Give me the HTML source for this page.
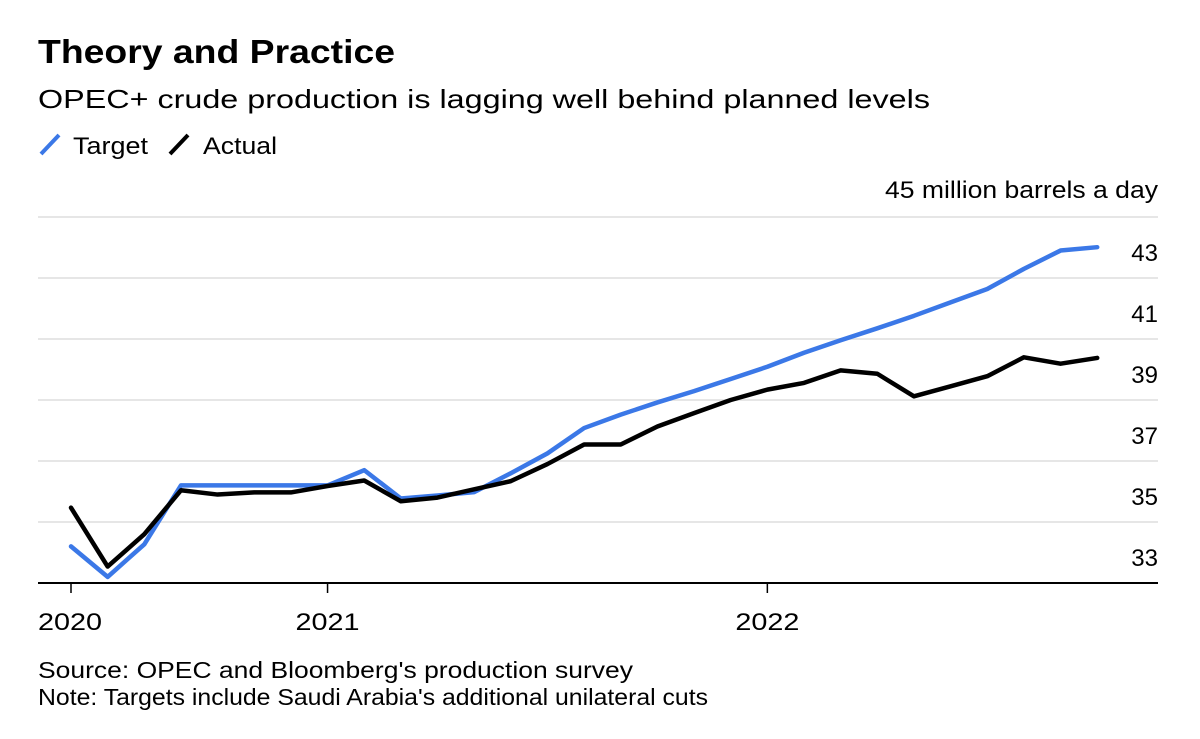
<!DOCTYPE html>
<html><head><meta charset="utf-8"><style>
html,body{margin:0;padding:0;background:#fff;}
svg{display:block;font-family:"Liberation Sans",sans-serif;}
</style></head><body>
<svg id="chart" width="1200" height="739" viewBox="0 0 1200 739">
<text x="38" y="63" font-size="33" font-weight="bold" fill="#000" textLength="357" lengthAdjust="spacingAndGlyphs">Theory and Practice</text>
<text x="38" y="108" font-size="26" fill="#000" textLength="892" lengthAdjust="spacingAndGlyphs">OPEC+ crude production is lagging well behind planned levels</text>
<g>
<g><line x1="41" y1="154" x2="59" y2="135" stroke="#3b78e7" stroke-width="4"/><text x="73" y="154" font-size="24" fill="#000" textLength="75" lengthAdjust="spacingAndGlyphs">Target</text></g>
<g><line x1="170" y1="154" x2="188" y2="135" stroke="#000" stroke-width="4"/><text x="203" y="154" font-size="24" fill="#000" textLength="74" lengthAdjust="spacingAndGlyphs">Actual</text></g>
</g>
<text x="1158" y="198" font-size="24" fill="#000" text-anchor="end" textLength="273" lengthAdjust="spacingAndGlyphs">45 million barrels a day</text>
<g id="grid"></g>
<g id="series"></g>
<text x="38" y="678" font-size="23" fill="#000" textLength="595" lengthAdjust="spacingAndGlyphs">Source: OPEC and Bloomberg's production survey</text>
<text x="38" y="705" font-size="23" fill="#000" textLength="670" lengthAdjust="spacingAndGlyphs">Note: Targets include Saudi Arabia's additional unilateral cuts</text>
</svg>
<script>
const yTicks = [33, 35, 37, 39, 41, 43, 45];
const yTickLabels = ["33", "35", "37", "39", "41", "43", ""];
const xTickIndex = [0, 7, 19];
const xTickLabels = ["2020", "2021", "2022"];
const target = [34.2, 33.2, 34.27, 36.2, 36.2, 36.2, 36.2, 36.2, 36.7, 35.77, 35.87, 35.98, 36.6, 37.25, 38.08, 38.52, 38.92, 39.29, 39.69, 40.09, 40.55, 40.96, 41.35, 41.76, 42.2, 42.64, 43.3, 43.9, 44.01];
const actual = [35.47, 33.54, 34.6, 36.04, 35.9, 35.97, 35.97, 36.18, 36.36, 35.68, 35.8, 36.07, 36.34, 36.9, 37.54, 37.54, 38.13, 38.57, 39.0, 39.34, 39.56, 39.97, 39.86, 39.12, 39.45, 39.78, 40.4, 40.19, 40.38];

const NS = "http://www.w3.org/2000/svg";
function xScale(i){ return 71 + i * 36.65; }
function yScale(v){ return 583 - (v - 33) * 30.5; }
const grid = document.getElementById("grid");
const series = document.getElementById("series");

yTicks.forEach(function(v, k){
  if (k > 0) {
    const l = document.createElementNS(NS, "line");
    l.setAttribute("x1", 38); l.setAttribute("x2", 1158);
    l.setAttribute("y1", yScale(v)); l.setAttribute("y2", yScale(v));
    l.setAttribute("stroke", "#e6e6e6"); l.setAttribute("stroke-width", "2");
    
    
    grid.appendChild(l);
  }
  if (yTickLabels[k]) {
    const t = document.createElementNS(NS, "text");
    t.setAttribute("x", 1158); t.setAttribute("y", yScale(v) - 17);
    t.setAttribute("text-anchor", "end"); t.setAttribute("font-size", "24");
    t.textContent = yTickLabels[k];
    
    
    grid.appendChild(t);
  }
});
const axis = document.createElementNS(NS, "line");
axis.setAttribute("x1", 38); axis.setAttribute("x2", 1158);
axis.setAttribute("y1", yScale(33)); axis.setAttribute("y2", yScale(33));
axis.setAttribute("stroke", "#000"); axis.setAttribute("stroke-width", "2");


grid.appendChild(axis);
xTickIndex.forEach(function(i, k){
  const l = document.createElementNS(NS, "line");
  l.setAttribute("x1", xScale(i)); l.setAttribute("x2", xScale(i));
  l.setAttribute("y1", yScale(33)); l.setAttribute("y2", yScale(33) + 10);
  l.setAttribute("stroke", "#000"); l.setAttribute("stroke-width", "1.5");
  
  
  grid.appendChild(l);
  const t = document.createElementNS(NS, "text");
  const first = (k === 0);
  t.setAttribute("x", first ? 38 : xScale(i) - 32);
  t.setAttribute("y", 630);
  t.setAttribute("font-size", "24");
  t.setAttribute("textLength", "64");
  t.setAttribute("lengthAdjust", "spacingAndGlyphs");
  t.textContent = xTickLabels[k];
  
  
  grid.appendChild(t);
});
function drawLine(arr, color, name){
  const p = document.createElementNS(NS, "polyline");
  p.setAttribute("points", arr.map(function(v, i){ return xScale(i) + "," + yScale(v); }).join(" "));
  p.setAttribute("fill", "none"); p.setAttribute("stroke", color);
  p.setAttribute("stroke-width", "4.5"); p.setAttribute("stroke-linejoin", "round");
  p.setAttribute("stroke-linecap", "round");
  
  
  series.appendChild(p);
}
drawLine(target, "#3b78e7", "target-line");
drawLine(actual, "#000000", "actual-line");
</script>
</body></html>
